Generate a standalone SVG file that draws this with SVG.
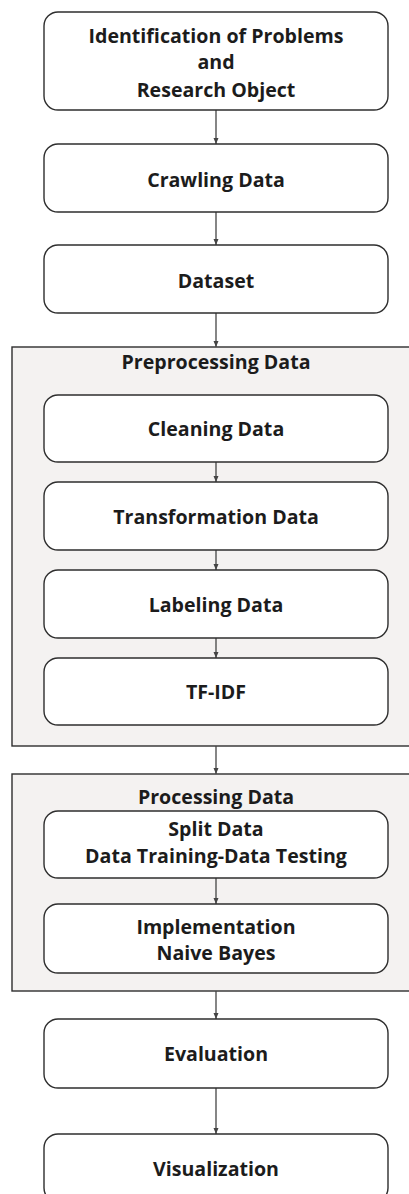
<svg xmlns="http://www.w3.org/2000/svg" width="409" height="1194" viewBox="0 0 409 1194">
<style>
.bg{fill:#ffffff}
.box{fill:#ffffff;stroke:#2e2e2e;stroke-width:1.4}
.grp{fill:#f4f2f1;stroke:#2e2e2e;stroke-width:1.4}
.t{font-family:"Open Sans","Liberation Sans",sans-serif;font-weight:700;font-size:19.6px;fill:#1c1c1c;text-anchor:middle}
.c{stroke:#444;stroke-width:1.3;fill:none;marker-end:url(#ah)}
</style>
<defs>
<marker id="ah" viewBox="0 0 6 6" refX="6" refY="3" markerWidth="6" markerHeight="6" markerUnits="userSpaceOnUse" orient="auto">
<path d="M0,0.5 L6,3 L0,5.5 Z" fill="#444"/>
</marker>
</defs>
<rect class="bg" x="0" y="0" width="409" height="1194"/>
<g id="preprocessing">
<rect class="grp" x="12" y="347" width="402" height="399"/>
<text class="t" x="216" y="369">Preprocessing Data</text>
</g>
<g id="processing">
<rect class="grp" x="12" y="774" width="402" height="217"/>
<text class="t" x="216" y="804">Processing Data</text>
</g>
<g id="connectors">
<line class="c" x1="216" y1="110" x2="216" y2="144"/>
<line class="c" x1="216" y1="212" x2="216" y2="245"/>
<line class="c" x1="216" y1="313" x2="216" y2="347"/>
<line class="c" x1="216" y1="462" x2="216" y2="482"/>
<line class="c" x1="216" y1="550" x2="216" y2="570"/>
<line class="c" x1="216" y1="638" x2="216" y2="658"/>
<line class="c" x1="216" y1="746" x2="216" y2="774"/>
<line class="c" x1="216" y1="878" x2="216" y2="904"/>
<line class="c" x1="216" y1="991" x2="216" y2="1019"/>
<line class="c" x1="216" y1="1088" x2="216" y2="1134"/>
</g>
<g id="identification">
<rect class="box" x="44" y="12" width="344" height="98" rx="14"/>
<text class="t" x="216" y="43">Identification of Problems</text>
<text class="t" x="216" y="69">and</text>
<text class="t" x="216" y="96.5">Research Object</text>
</g>
<g id="crawling">
<rect class="box" x="44" y="144" width="344" height="68" rx="14"/>
<text class="t" x="216" y="186.5">Crawling Data</text>
</g>
<g id="dataset">
<rect class="box" x="44" y="245" width="344" height="68" rx="14"/>
<text class="t" x="216" y="287.5">Dataset</text>
</g>
<g id="cleaning">
<rect class="box" x="44" y="395" width="344" height="67" rx="14"/>
<text class="t" x="216" y="435.5">Cleaning Data</text>
</g>
<g id="transformation">
<rect class="box" x="44" y="482" width="344" height="68" rx="14"/>
<text class="t" x="216" y="523.5">Transformation Data</text>
</g>
<g id="labeling">
<rect class="box" x="44" y="570" width="344" height="68" rx="14"/>
<text class="t" x="216" y="611.5">Labeling Data</text>
</g>
<g id="tfidf">
<rect class="box" x="44" y="658" width="344" height="67" rx="14"/>
<text class="t" x="216" y="698.5">TF-IDF</text>
</g>
<g id="split">
<rect class="box" x="44" y="811" width="344" height="67" rx="14"/>
<text class="t" x="216" y="836">Split Data</text>
<text class="t" x="216" y="862.5">Data Training-Data Testing</text>
</g>
<g id="implementation">
<rect class="box" x="44" y="904" width="344" height="69" rx="14"/>
<text class="t" x="216" y="933.5">Implementation</text>
<text class="t" x="216" y="959.5">Naive Bayes</text>
</g>
<g id="evaluation">
<rect class="box" x="44" y="1019" width="344" height="69" rx="14"/>
<text class="t" x="216" y="1060.5">Evaluation</text>
</g>
<g id="visualization">
<rect class="box" x="44" y="1134" width="344" height="68" rx="14"/>
<text class="t" x="216" y="1175.5">Visualization</text>
</g>
</svg>
